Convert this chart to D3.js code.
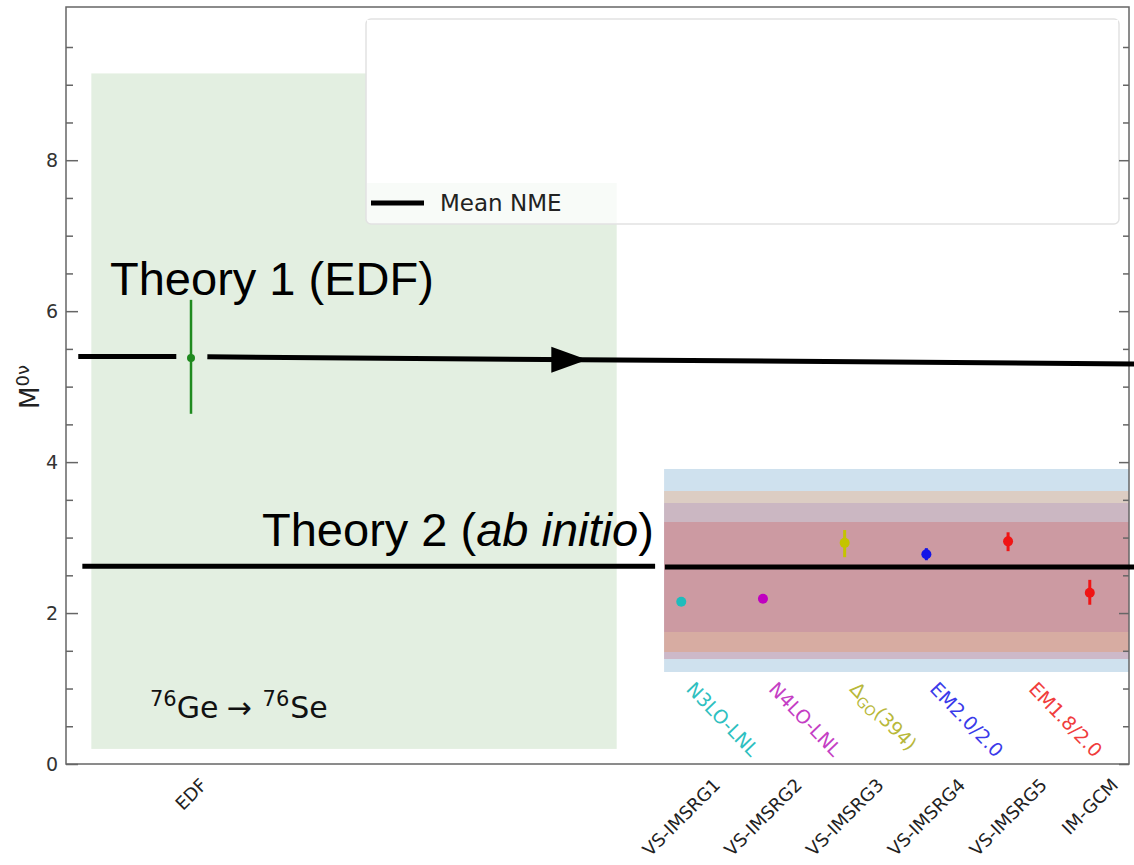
<!DOCTYPE html>
<html>
<head>
<meta charset="utf-8">
<script src="https://cdn.jsdelivr.net/npm/d3@7"></script>
<style>
    body { margin: 0; background: #fff; }
    svg { display: block; font-family: "DejaVu Sans", sans-serif; }
</style>
</head>
<body>
<div id="chart"></div>
<script>
// main axis categories (position on x, label)
const edfCat = ["EDF"];
const edfPos = [0];
const edfVal = [5.38];
const edfLo = [4.64];
const edfHi = [6.15];
const edfBox = [-1.22, 5.21, 0.2, 9.15]; // x0, x1, y0, y1

const vsCats = ["VS-IMSRG1", "VS-IMSRG2", "VS-IMSRG3", "VS-IMSRG4", "VS-IMSRG5", "IM-GCM"];
const vsPos = [6, 7, 8, 9, 10, 11];
const vsVal = [2.15, 2.19, 2.93, 2.78, 2.95, 2.27];
const vsLo = [2.15, 2.19, 2.74, 2.70, 2.82, 2.11];
const vsHi = [2.15, 2.19, 3.10, 2.86, 3.07, 2.44];
const vsColors = ["#1fbcbc", "#c000c0", "#c4c400", "#1414e6", "#f01414", "#f01414"];

const interactions = ["N3LO-LNL", "N4LO-LNL", "ΔGO(394)", "EM2.0/2.0", "EM1.8/2.0"];
const interactionPos = [6.05, 7.06, 8.05, 9.03, 10.24];
const interactionColors = ["#2ec0c0", "#c43ec4", "#b8b83a", "#3a3aea", "#f03c3c"];

// inset bands, drawn in order
const bandLo = [1.219, 3.458, 3.207, 1.749, 1.484, 1.391];
const bandHi = [3.909, 3.617, 3.458, 3.207, 1.749, 1.484];
const bandColors = ["#cfe1ee", "#dccdc3", "#cbb7c2", "#cc9aa2", "#d7aca2", "#cdb9c9"];
const insetX = [5.79, 11.48];

// mean lines (theory annotations)
const theory1 = [[-1.38, 5.40], [-0.18, 5.40], [0.20, 5.395], [11.6, 5.30]];
const theory1Arrow = 4.85;
const theory2 = [[-1.33, 2.62], [5.68, 2.62], [5.80, 2.61], [11.6, 2.61]];

const yMajor = [0, 2, 4, 6, 8];
const yMinor = d3.range(0.5, 10, 0.5).filter(v => !yMajor.includes(v));

const W = 1134, H = 865;
const svg = d3.select("#chart").append("svg")
    .attr("width", W)
    .attr("height", H);

const x = d3.scaleLinear().domain([-1.53, 11.48]).range([66, 1129]);
const y = d3.scaleLinear().domain([0, 10.03]).range([764, 7]);

// EDF shaded box
svg.append("rect")
    .attr("x", x(edfBox[0]))
    .attr("y", y(edfBox[3]))
    .attr("width", x(edfBox[1]) - x(edfBox[0]))
    .attr("height", y(edfBox[2]) - y(edfBox[3]))
    .attr("fill", "#e3efe1");

// legend box (semi transparent like matplotlib)
svg.append("rect")
    .attr("x", 366).attr("y", 19)
    .attr("width", 753).attr("height", 205)
    .attr("rx", 5)
    .attr("fill", "rgba(255,255,255,0.75)")
    .attr("stroke", "#e2e2e2")
    .attr("stroke-width", 1.5);
svg.append("rect")
    .attr("x", 367).attr("y", 20)
    .attr("width", 751).attr("height", 163)
    .attr("fill", "#fff");
svg.append("line")
    .attr("x1", 371).attr("x2", 424)
    .attr("y1", 203).attr("y2", 203)
    .attr("stroke", "#000").attr("stroke-width", 5);
svg.append("text")
    .attr("x", 440).attr("y", 211)
    .attr("font-size", 23)
    .attr("fill", "#222")
    .text("Mean NME");

// inset bands
svg.append("g").selectAll("rect")
    .data(bandLo)
    .enter()
    .append("rect")
    .attr("x", x(insetX[0]))
    .attr("width", x(insetX[1]) - x(insetX[0]))
    .attr("y", (d, i) => y(bandHi[i]))
    .attr("height", (d, i) => y(bandLo[i]) - y(bandHi[i]))
    .attr("fill", (d, i) => bandColors[i]);

// EDF point
const edf = svg.append("g");
edf.selectAll("line")
    .data(edfPos)
    .enter()
    .append("line")
    .attr("x1", d => x(d)).attr("x2", d => x(d))
    .attr("y1", (d, i) => y(edfLo[i]))
    .attr("y2", (d, i) => y(edfHi[i]))
    .attr("stroke", "#1f8a1f")
    .attr("stroke-width", 2.5);
edf.selectAll("circle")
    .data(edfPos)
    .enter()
    .append("circle")
    .attr("cx", d => x(d))
    .attr("cy", (d, i) => y(edfVal[i]))
    .attr("r", 4)
    .attr("fill", "#1f8a1f");

// inset points
const pts = svg.append("g");
pts.selectAll("line")
    .data(vsPos)
    .enter()
    .append("line")
    .attr("x1", d => x(d)).attr("x2", d => x(d))
    .attr("y1", (d, i) => y(vsLo[i]))
    .attr("y2", (d, i) => y(vsHi[i]))
    .attr("stroke", (d, i) => vsColors[i])
    .attr("stroke-width", 3);
pts.selectAll("circle")
    .data(vsPos)
    .enter()
    .append("circle")
    .attr("cx", d => x(d))
    .attr("cy", (d, i) => y(vsVal[i]))
    .attr("r", 5)
    .attr("fill", (d, i) => vsColors[i]);

// interaction labels (rotated downwards)
svg.append("g").selectAll("text")
    .data(interactions)
    .enter()
    .append("text")
    .attr("transform", (d, i) => `translate(${x(interactionPos[i])},690) rotate(46)`)
    .attr("font-size", 19)
    .attr("fill", (d, i) => interactionColors[i])
    .each(function (d) {
        const t = d3.select(this);
        if (d.startsWith("Δ")) {
            t.append("tspan").text("Δ");
            t.append("tspan").attr("font-size", 14).attr("dy", 4).text("GO");
            t.append("tspan").attr("dy", -4).text("(394)");
        } else {
            t.text(d);
        }
    });

// axes frame
const frame = svg.append("g")
    .attr("stroke", "#666")
    .attr("stroke-width", 1.5)
    .attr("fill", "none");
frame.append("rect")
    .attr("x", 66).attr("y", 7)
    .attr("width", 1129 - 66).attr("height", 764 - 7);

const leftAxis = svg.append("g").attr("transform", "translate(66,0)");
leftAxis.call(d3.axisRight(y).tickValues(yMinor).tickSize(7).tickFormat(""));
leftAxis.call(g => g.select(".domain").remove());
const leftMajor = svg.append("g").attr("transform", "translate(66,0)");
leftMajor.call(d3.axisRight(y).tickValues(yMajor).tickSize(12).tickFormat(""));
leftMajor.call(g => g.select(".domain").remove());

const rightAxis = svg.append("g").attr("transform", "translate(1129,0)");
rightAxis.call(d3.axisLeft(y).tickValues(yMinor).tickSize(6).tickFormat(""));
rightAxis.call(g => g.select(".domain").remove());
const rightMajor = svg.append("g").attr("transform", "translate(1129,0)");
rightMajor.call(d3.axisLeft(y).tickValues(yMajor).tickSize(10).tickFormat(""));
rightMajor.call(g => g.select(".domain").remove());

svg.selectAll(".tick line").attr("stroke", "#666").attr("stroke-width", 1.5);

svg.append("g").selectAll("text")
    .data(yMajor)
    .enter()
    .append("text")
    .attr("x", 58)
    .attr("y", d => y(d))
    .attr("dy", "0.36em")
    .attr("text-anchor", "end")
    .attr("font-size", 19)
    .attr("fill", "#333")
    .text(d => d);

// y label M^{0ν}
const ylab = svg.append("text")
    .attr("transform", "translate(39,387) rotate(-90)")
    .attr("text-anchor", "middle")
    .attr("font-size", 26)
    .attr("fill", "#222");
ylab.append("tspan").text("M");
ylab.append("tspan").attr("font-size", 18).attr("dy", -10).text("0ν");

// x tick labels, rotated 45 and centred on the tick like matplotlib
const xCats = edfCat.concat(vsCats);
const xPos = edfPos.concat(vsPos);
svg.append("g").selectAll("text")
    .data(xCats)
    .enter()
    .append("text")
    .attr("font-size", 18)
    .attr("fill", "#222")
    .attr("text-anchor", "middle")
    .attr("dominant-baseline", "central")
    .text(d => d)
    .each(function (d, i) {
        const len = this.getComputedTextLength();
        const h = (len + 13) * Math.SQRT1_2;
        d3.select(this).attr("transform", `translate(${x(xPos[i])},${777 + h / 2}) rotate(-45)`);
    });

// isotope text
const iso = svg.append("text")
    .attr("x", 150).attr("y", 718)
    .attr("font-size", 30)
    .attr("fill", "#111");
iso.append("tspan").attr("font-size", 21).attr("dy", -12).text("76");
iso.append("tspan").attr("dy", 12).text("Ge");
iso.append("tspan").attr("dx", 8).text("→");
iso.append("tspan").attr("dx", 11).attr("font-size", 21).attr("dy", -12).text("76");
iso.append("tspan").attr("dy", 12).attr("dx", 1).text("Se");

// theory mean lines
const seg = (pts, a, b) => svg.append("line")
    .attr("x1", x(pts[a][0])).attr("y1", y(pts[a][1]))
    .attr("x2", x(pts[b][0])).attr("y2", y(pts[b][1]))
    .attr("stroke", "#000")
    .attr("stroke-width", 5);
seg(theory1, 0, 1);
seg(theory1, 2, 3);
seg(theory2, 0, 1);
seg(theory2, 2, 3);

// arrow head on theory 1
const t1 = d3.scaleLinear().domain([theory1[2][0], theory1[3][0]]).range([theory1[2][1], theory1[3][1]]);
const ax = x(theory1Arrow), ay = y(t1(theory1Arrow));
svg.append("path")
    .attr("d", `M${ax},${ay} L${ax - 36},${ay - 13} L${ax - 36},${ay + 13} Z`)
    .attr("fill", "#000");

svg.append("text")
    .attr("x", 110).attr("y", 295)
    .attr("font-family", "Liberation Sans, Arial, sans-serif")
    .attr("font-size", 47)
    .attr("fill", "#000")
    .text("Theory 1 (EDF)");

const th2 = svg.append("text")
    .attr("x", 262).attr("y", 546)
    .attr("font-family", "Liberation Sans, Arial, sans-serif")
    .attr("font-size", 47)
    .attr("fill", "#000");
th2.append("tspan").text("Theory 2 (");
th2.append("tspan").attr("font-style", "italic").text("ab initio");
th2.append("tspan").text(")");
</script>
</body>
</html>
